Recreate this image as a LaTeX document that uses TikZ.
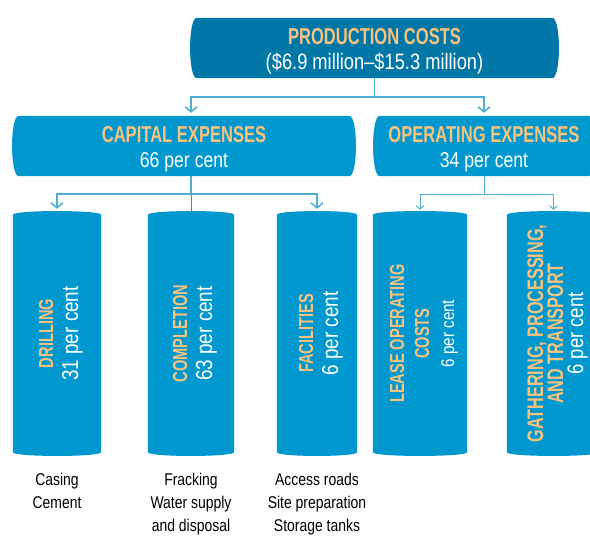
\documentclass[tikz,border=0pt]{standalone}
\usepackage{fontspec}
\setmainfont{Liberation Sans}[FakeStretch = 0.82]
\newfontfamily\headfont{Liberation Sans}[FakeStretch = 0.72]
\usetikzlibrary{positioning, backgrounds, arrows.meta}

\definecolor{deepblue}{RGB}{0,119,166}
\definecolor{capblue}{RGB}{0,152,206}
\definecolor{peach}{RGB}{250,195,125}
\definecolor{linkblue}{RGB}{75,176,210}

\newcommand\hd[1]{{\headfont\bfseries\color{peach}#1}}
\newcommand\tall{\rule{0pt}{23pt}}

\begin{document}
\begin{tikzpicture}[x = 1pt, y = 1pt,
	hbox/.style = {minimum height = 60pt, inner sep = 0pt, align = center, text = white, font = \fontsize{21.5}{25}\selectfont},
	col/.style = {minimum height = 237pt, inner sep = 0pt},
	coltext/.style = {xshift = 4pt, rotate = 90, inner sep = 0pt, align = center, text = white, font = \fontsize{20.3}{25}\selectfont},
	note/.style = {inner sep = 0pt, align = center, font = \fontsize{17}{23}\selectfont},
	link/.style = {draw = linkblue, line width = 1.5pt},
	tip/.style = {-{Straight Barb[length = 5pt, width = 12pt, line width = 1.5pt]}},
	smalltip/.style = {-{Straight Barb[length = 3.5pt, width = 8pt, line width = 1pt]}}]
	\useasboundingbox (0,0) rectangle (590,-536);

	\path
	(374.5,-48) node[hbox, minimum width = 355pt](PC){\tall\hd{\fontsize{23}{25}\selectfont PRODUCTION COSTS}\\\fontsize{22.3}{25}\selectfont(\$6.9 million--\$15.3 million)}
	(184,-146) node[hbox, minimum width = 330pt](CE){\tall\hd{\fontsize{23}{25}\selectfont CAPITAL EXPENSES}\\66 per cent}
	(484,-146) node[hbox, minimum width = 208pt](OE){\tall\hd{\fontsize{23}{25}\selectfont OPERATING EXPENSES}\\34 per cent}

	(57,-333.5) node[col, minimum width = 88pt, label = {[coltext]center:\hd{DRILLING}\\\fontsize{23}{25}\selectfont 31 per cent}](DR){}
	(191,-333.5) node[col, minimum width = 86pt, label = {[coltext]center:\hd{COMPLETION}\\\fontsize{23}{25}\selectfont 63 per cent}](CO){}
	(317,-333.5) node[col, minimum width = 80pt, label = {[coltext]center:\hd{FACILITIES}\\\fontsize{23}{25}\selectfont 6 per cent}](FA){}
	(420,-333.5) node[col, minimum width = 94pt, label = {[coltext]center:\hd{LEASE OPERATING}\\\hd{COSTS}\\\fontsize{18.5}{24}\selectfont 6 per cent}](LO){}
	(553.5,-333.5) node[col, minimum width = 93pt, label = {[coltext, font = \fontsize{22.5}{20}\selectfont]center:\hd{GATHERING, PROCESSING,}\\\hd{AND TRANSPORT}\\\fontsize{22.5}{21}\selectfont 6 per cent}](GA){};

	% details under the capital columns
	\node[note, below = 21pt of DR](DRn){Casing\\Cement};
	\node[note, below = 21pt of CO](COn){Fracking\\Water supply\\and disposal};
	\node[note, below = 21pt of FA](FAn){Access roads\\Site preparation\\Storage tanks};

	\begin{scope}[on background layer]
		\clip (0,0) rectangle (590,-536);
		\foreach \n/\c in {PC/deepblue, CE/capblue, OE/capblue}
			\fill[\c] (\n.north west) -- (\n.north east) .. controls +(9,0) and +(9,0) .. (\n.south east)
				-- (\n.south west) .. controls +(-9,0) and +(-9,0) .. (\n.north west);
		\foreach \n in {DR, CO, FA, LO, GA}
			\fill[capblue] (\n.south west) -- (\n.north west) .. controls +(0,5) and +(0,5) .. (\n.north east)
				-- (\n.south east) .. controls +(0,-5) and +(0,-5) .. (\n.south west);
	\end{scope}

	\draw[link, tip, shorten >= 3pt] (PC.south) -- ++(0,-19) -| (CE.north -| CO.north);
	\draw[link, tip, shorten >= 3pt] (PC.south) -- ++(0,-19) -| (OE.north);

	\draw[link] (CE.south -| CO.north) -- ++(0,-18) coordinate(CEj);
	\draw[link, tip, shorten >= 6pt] (CEj) -| (DR.north);
	\draw[link, tip, shorten >= 6pt] (CEj) -| (FA.north);
	\draw[gray, line width = 0.7pt] (CEj) -- ([yshift = 3pt]CO.north);

	\draw[link, line width = 1pt] (OE.south) -- ++(0,-18) coordinate(OEj);
	\draw[link, line width = 1pt, smalltip, shorten >= 5pt] (OEj) -| (LO.north);
	\draw[link, line width = 1pt, smalltip, shorten >= 5pt] (OEj) -| (GA.north);
\end{tikzpicture}
\end{document}
